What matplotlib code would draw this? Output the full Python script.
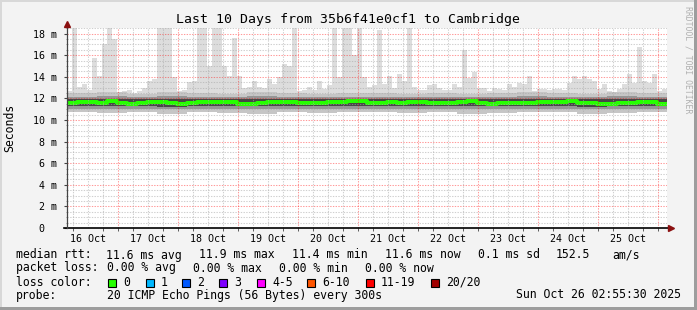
"""Smokeping style latency chart: last 10 days, 35b6f41e0cf1 -> Cambridge."""
import matplotlib
matplotlib.use("Agg")
import matplotlib.pyplot as plt
import numpy as np
import pandas as pd
from matplotlib.patches import Rectangle

W, H = 697, 310
START = pd.Timestamp("2025-10-16 03:36")
END = START + pd.Timedelta(hours=240)
MONO = "DejaVu Sans Mono"

# highest ping per 2-hour block (ms), 120 blocks
ping_max = [
    12.7, 18.5, 13.1, 13.3, 12.8, 15.7, 14.1, 17.0, 18.5, 17.5,
    12.5, 12.7, 12.8, 12.5, 12.7, 13.0, 13.6, 13.8, 18.5, 18.5,
    18.5, 14.0, 12.7, 12.8, 13.5, 13.6, 18.5, 18.5, 15.0, 18.5,
    18.5, 15.0, 14.1, 17.6, 14.1, 13.0, 13.1, 13.6, 13.1, 13.0,
    13.8, 13.3, 14.0, 15.2, 15.0, 18.5, 12.7, 12.8, 13.1, 12.8,
    13.6, 12.9, 13.2, 18.5, 14.0, 18.5, 18.5, 16.0, 18.5, 14.0,
    13.1, 13.2, 18.3, 13.3, 14.1, 13.0, 14.3, 13.6, 18.5, 13.1,
    12.8, 12.8, 13.2, 13.3, 13.0, 12.8, 12.8, 13.3, 13.1, 16.5,
    13.9, 14.4, 13.0, 13.0, 12.7, 13.0, 12.9, 12.8, 13.3, 13.1,
    13.4, 13.3, 14.1, 12.7, 12.9, 12.9, 12.8, 12.9, 12.9, 12.8,
    13.4, 14.1, 13.8, 14.1, 13.8, 13.6, 12.9, 13.3, 12.7, 12.5,
    12.9, 13.3, 14.3, 13.4, 16.8, 13.6, 13.4, 14.3, 12.7, 12.9,
]

# median rtt per 4-hour block (ms), 60 blocks
median_rtt = [
    11.55, 11.65, 11.65, 11.60, 11.75, 11.60, 11.45, 11.55, 11.70, 11.70,
    11.60, 11.50, 11.60, 11.70, 11.70, 11.65, 11.65, 11.50, 11.45, 11.55,
    11.65, 11.70, 11.70, 11.60, 11.55, 11.55, 11.65, 11.70, 11.75, 11.75,
    11.60, 11.60, 11.65, 11.60, 11.65, 11.65, 11.55, 11.60, 11.60, 11.65,
    11.75, 11.60, 11.50, 11.60, 11.60, 11.55, 11.55, 11.70, 11.65, 11.65,
    11.80, 11.60, 11.60, 11.50, 11.50, 11.60, 11.60, 11.70, 11.70, 11.50,
]

# smoke band edges per 12-hour block (ms), 20 blocks
smoke_lo = [10.70, 10.65, 10.70, 10.60, 10.70, 10.65, 10.60, 10.70, 10.65, 10.70,
            10.70, 10.65, 10.70, 10.60, 10.65, 10.70, 10.70, 10.60, 10.65, 10.70]
smoke_hi = [12.50, 12.60, 12.45, 12.55, 12.50, 12.45, 12.55, 12.50, 12.45, 12.50,
            12.50, 12.45, 12.50, 12.45, 12.50, 12.55, 12.50, 12.45, 12.55, 12.50]
mid_lo = [11.05, 11.00, 11.05, 11.00, 11.05, 11.05, 11.00, 11.05, 11.05, 11.05,
          11.05, 11.00, 11.05, 11.00, 11.05, 11.05, 11.05, 11.00, 11.05, 11.05]
mid_hi = [12.15, 12.20, 12.10, 12.20, 12.15, 12.10, 12.20, 12.15, 12.10, 12.15,
          12.15, 12.10, 12.15, 12.10, 12.15, 12.20, 12.15, 12.10, 12.20, 12.15]
core_lo = [11.30, 11.30, 11.30, 11.25, 11.30, 11.30, 11.30, 11.30, 11.30, 11.30,
           11.30, 11.30, 11.30, 11.30, 11.30, 11.30, 11.30, 11.25, 11.30, 11.30]
core_hi = [11.90, 11.95, 11.90, 11.95, 11.90, 11.90, 11.95, 11.90, 11.90, 11.90,
           11.95, 11.90, 11.90, 11.90, 11.95, 11.95, 11.90, 11.90, 11.95, 11.90]

y_ticks = [0, 2, 4, 6, 8, 10, 12, 14, 16, 18]
y_labels = ["0  ", "2 m", "4 m", "6 m", "8 m", "10 m", "12 m", "14 m", "16 m", "18 m"]

loss_labels = ["0", "1", "2", "3", "4-5", "6-10", "11-19", "20/20"]
loss_colors = ["#26ff00", "#00b8ff", "#0059ff", "#7e00ff", "#ff00ff",
               "#ff5500", "#ff0000", "#a10000"]

rtt_items = ["11.6 ms avg", "11.9 ms max", "11.4 ms min", "11.6 ms now",
             "0.1 ms sd", "152.5", "am/s"]
loss_items = ["0.00 % avg", "0.00 % max", "0.00 % min", "0.00 % now"]


def px(x, y):
    return x / W, 1 - y / H


def steps(vals, hours):
    t = START + pd.to_timedelta(np.arange(len(vals) + 1) * hours, unit="h")
    return t, np.append(vals, vals[-1])


fig = plt.figure(figsize=(W / 100, H / 100), dpi=100, facecolor="#f3f3f3")
ax = fig.add_axes([67 / W, 82 / H, 600 / W, 200 / H])
ax.set_facecolor("white")
for s in ax.spines.values():
    s.set_visible(False)

# smoke, lightest (max ping) first
t2, vmax = steps(ping_max, 2)
_, base = steps(np.repeat(median_rtt, 2), 2)
ax.fill_between(t2, base, vmax, step="post", color="#dddddd", lw=0, zorder=1)
t12, lo = steps(smoke_lo, 12)
_, hi = steps(smoke_hi, 12)
ax.fill_between(t12, lo, hi, step="post", color="#c6c6c6", lw=0, zorder=2)
_, lo = steps(mid_lo, 12)
_, hi = steps(mid_hi, 12)
ax.fill_between(t12, lo, hi, step="post", color="#969696", lw=0, zorder=3)
_, lo = steps(core_lo, 12)
_, hi = steps(core_hi, 12)
ax.fill_between(t12, lo, hi, step="post", color="#474747", lw=0, zorder=4)

t4, med = steps(median_rtt, 4)
ax.step(t4, med, where="post", color="#26ff00", lw=2.9, zorder=6)

ax.set_xlim(START, END)
ax.set_ylim(0, 18.52)

# grid on top, like rrdtool
for v in np.arange(0.5, 18.6, 0.5):
    major = abs(v % 2) < 1e-9
    ax.axhline(v, color="#ff0000" if major else "#a8a8a8",
               alpha=0.4 if major else 0.55, lw=0.75,
               dashes=(1.3, 1.3), zorder=8)
for t in pd.date_range(START.ceil("6h"), END, freq="6h"):
    major = t.hour == 0
    ax.axvline(t, color="#ff0000" if major else "#a8a8a8",
               alpha=0.4 if major else 0.55, lw=0.75,
               dashes=(1.3, 1.3), zorder=8)

# axes with arrows
ax.plot([-0.005, 1.005], [0, 0], transform=ax.transAxes, color="black",
        lw=1.2, clip_on=False, zorder=9)
ax.plot([0, 0], [0, 1.02], transform=ax.transAxes, color="#444444",
        lw=0.9, clip_on=False, zorder=9)
ax.plot([1.006], [0], transform=ax.transAxes, marker=">", ms=4.5,
        color="#8b1010", clip_on=False, zorder=10)
ax.plot([0], [1.02], transform=ax.transAxes, marker="^", ms=4.5,
        color="#8b1010", clip_on=False, zorder=10)

ax.set_yticks(y_ticks)
ax.set_yticklabels(y_labels, family=MONO, fontsize=7.2)
ax.set_yticks(np.arange(0, 18.6, 0.5), minor=True)
ax.tick_params(axis="y", which="major", length=2, pad=5, color="#444444")
ax.tick_params(axis="y", which="minor", length=1, color="#888888")

noons = pd.date_range(START.ceil("12h"), END, freq="24h")
noons = [t for t in noons if t.hour == 12]
ax.set_xticks(noons)
ax.set_xticklabels([t.strftime("%d %b") for t in noons], family=MONO, fontsize=7.2)
ax.set_xticks(pd.date_range(START.ceil("6h"), END, freq="6h"), minor=True)
ax.tick_params(axis="x", which="major", length=0, pad=4)
ax.tick_params(axis="x", which="minor", length=2, color="#444444")

# texts
fig.text(*px(348, 19), "Last 10 Days from 35b6f41e0cf1 to Cambridge",
         family=MONO, fontsize=9.5, ha="center", va="center")
fig.text(*px(10, 128), "Seconds", family=MONO, fontsize=8.3, rotation=90,
         ha="center", va="center")
fig.text(*px(688, 60), "RRDTOOL / TOBI OETIKER", family=MONO, fontsize=5.9,
         rotation=270, color="#b0b0b0", ha="center", va="center")

fs = 8.3
fig.text(*px(16, 255), "median rtt:", family=MONO, fontsize=fs, va="center")
for x, s in zip([106, 199, 292, 385, 478, 556, 612], rtt_items):
    fig.text(*px(x, 255), s, family=MONO, fontsize=fs, va="center")
fig.text(*px(16, 268), "packet loss:", family=MONO, fontsize=fs, va="center")
for x, s in zip([107, 193, 279, 365], loss_items):
    fig.text(*px(x, 268), s, family=MONO, fontsize=fs, va="center")
fig.text(*px(16, 282), "loss color:", family=MONO, fontsize=fs, va="center")
for x, lab, col in zip([108, 146, 182, 219, 257, 307, 366, 431], loss_labels, loss_colors):
    bx, by = px(x, 286.5)
    fig.add_artist(Rectangle((bx, by), 8 / W, 8 / H, transform=fig.transFigure,
                             facecolor=col, edgecolor="black", lw=0.8))
    fig.text(*px(x + 15, 282), lab, family=MONO, fontsize=fs, va="center")
fig.text(*px(16, 295), "probe:", family=MONO, fontsize=fs, va="center")
fig.text(*px(107, 295), "20 ICMP Echo Pings (56 Bytes) every 300s",
         family=MONO, fontsize=fs, va="center")
fig.text(*px(681, 295), "Sun Oct 26 02:55:30 2025", family=MONO,
         fontsize=fs, va="center", ha="right")

# 3d-ish frame
for x, y, w, h, c in [(0, 0, W, 2, "#d8d8d8"), (0, 0, 2, H, "#d8d8d8"),
                      (W - 3, 0, 3, H, "#9d9d9d"), (0, H - 3, W, 3, "#9d9d9d")]:
    fx, fy = px(x, y + h)
    fig.add_artist(Rectangle((fx, fy), w / W, h / H, transform=fig.transFigure,
                             facecolor=c, lw=0))

fig.savefig("out.png", dpi=100, facecolor=fig.get_facecolor())
